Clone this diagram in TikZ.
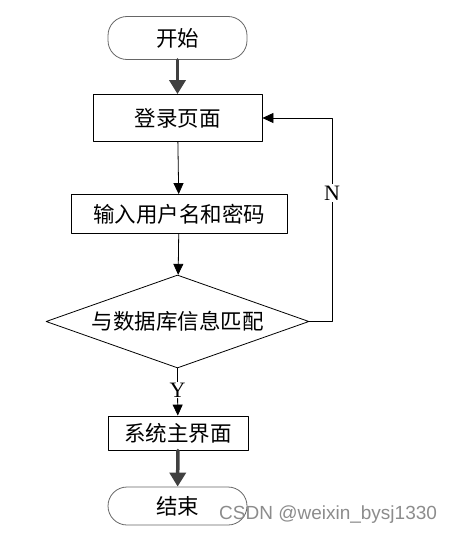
\documentclass[tikz,border=0pt]{standalone}
\usepackage{fontspec}
\setmainfont{Liberation Serif}
\newfontfamily\cjk{Noto Sans CJK SC}
\newfontfamily\wmfont{Liberation Sans}
\usepackage{tikz}
\usetikzlibrary{arrows.meta,shapes.geometric}

\tikzset{
  cjktext/.style={font=\cjk\fontsize{21.5pt}{24pt}\selectfont},
  termbox/.style={draw=black!60,line width=0.8pt,rounded corners=19pt,cjktext},
  stepbox/.style={draw=black,line width=0.8pt,rectangle,cjktext},
  testbox/.style={draw=black,line width=0.8pt,diamond,aspect=2.83,inner sep=0pt,cjktext},
  thinarrow/.style={line width=0.8pt,-{Triangle[length=11pt,width=10pt]}},
  thickarrow/.style={line width=3.5pt,color=black!75,-{Triangle[length=14pt,width=16pt]}}
}

\begin{document}
\begin{tikzpicture}[line cap=round,line join=round,x=1pt,y=1pt]
				\useasboundingbox (0,0) rectangle (452,-535);
				% boxes
				\node[termbox,minimum width=139pt,minimum height=43pt] (start) at (177.5,-38) {开始};
				\node[stepbox,minimum width=169pt,minimum height=47pt] (login) at (177.5,-118) {登录页面};
				\node[stepbox,minimum width=216pt,minimum height=39pt] (input) at (179,-214) {输入用户名和密码};
				\node[testbox,minimum width=263pt,minimum height=93pt] (match) at (177.5,-321.5) {与数据库信息匹配};
				\node[inner sep=1pt,font=\fontsize{22pt}{24pt}\selectfont] (yes) at (177.5,-390) {Y};
				\node[stepbox,minimum width=140pt,minimum height=34pt] (mainui) at (178,-433) {系统主界面};
				\node[termbox,minimum width=139pt,minimum height=38pt] (stop) at (177.5,-506) {结束};
				\coordinate (loop) at (332,-118);

				% connectors
				\draw[thickarrow] (start) -- (login);
				\draw[thinarrow] (login) -- (input);
				\draw[thinarrow] (input) -- (match);
				\draw[line width=0.8pt] (match.south) -- (yes);
				\draw[thinarrow] (yes) -- (mainui);
				\draw[thickarrow] (mainui) -- (stop);
				\draw[thinarrow] (match.east) -| node[pos=0.815,fill=white,inner sep=2pt,font=\fontsize{22pt}{24pt}\selectfont] {N} (loop) -- (login.east);

				\node[anchor=west,text=black!45,font=\wmfont\fontsize{19pt}{22pt}\selectfont,inner sep=0pt] (mark) at (219,-515) {CSDN @weixin\_bysj1330};
\end{tikzpicture}
\end{document}
